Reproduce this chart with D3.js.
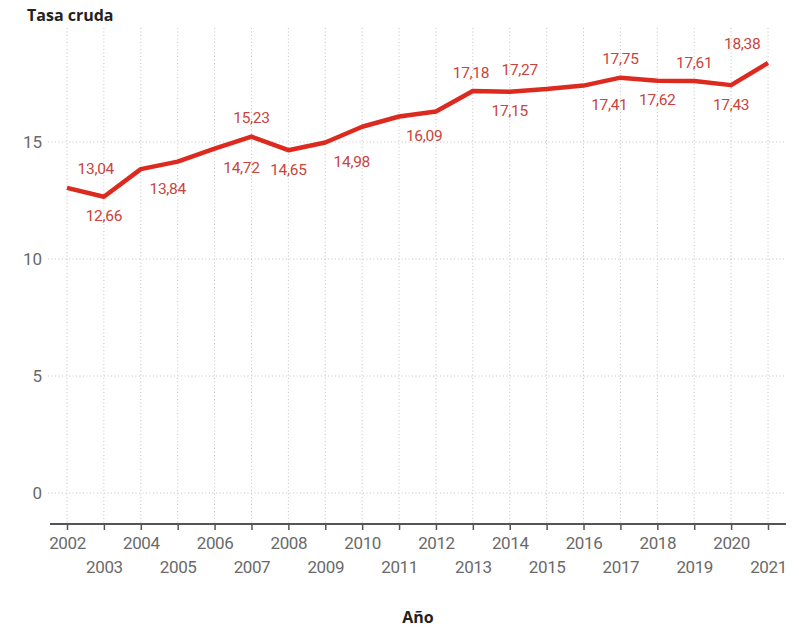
<!DOCTYPE html>
<html>
<head>
<meta charset="utf-8">
<script src="https://cdn.jsdelivr.net/npm/d3@7"></script>
<style>
  html, body { margin: 0; padding: 0; background: #fff; }
  svg { display: block; }
</style>
</head>
<body>
<svg id="chart" width="799" height="628"></svg>
<script>
// Crude rate by year
const years = [2002, 2003, 2004, 2005, 2006, 2007, 2008, 2009, 2010, 2011,
               2012, 2013, 2014, 2015, 2016, 2017, 2018, 2019, 2020, 2021];
const rates = [13.04, 12.66, 13.84, 14.16, 14.72, 15.23, 14.65, 14.98, 15.65, 16.09,
               16.30, 17.18, 17.15, 17.27, 17.41, 17.75, 17.62, 17.61, 17.43, 18.38];
// Which points carry a value label: 1 above the line, -1 below, 0 none
const labelSide = [1, -1, -1, 0, -1, 1, -1, -1, 0, -1,
                   0, 1, -1, 1, -1, 1, -1, 1, -1, 1];
// Horizontal nudge of each label, in fractions of one year step
const labelShift = [0.78, 0, 0.73, 0, 0.73, 0, 0, 0.72, 0, 0.68,
                    0, -0.05, 0, -0.73, 0.7, 0, 0, 0, 0, -0.7];
const yTicks = [0, 5, 10, 15];

const svg = d3.select("#chart");
const font = "'Open Sans', 'Noto Sans', sans-serif";
const numFont = "Roboto, 'Open Sans', sans-serif";
const lineColor = "#dc2a1f";
const labelColor = "#c9443c";
const tickColor = "#6a6a6a";

const x = d3.scaleLinear().domain([2002, 2021]).range([67, 768]);
const y = d3.scaleLinear().domain([0, 15]).range([493, 142]);
const axisY = 524;
const step = x(2003) - x(2002);

// Grid: dotted verticals at every year, dotted horizontals at y ticks
svg.append("g").selectAll("line").data(years).join("line")
  .attr("x1", d => x(d)).attr("x2", d => x(d))
  .attr("y1", 28).attr("y2", axisY)
  .attr("stroke", "#c4c4c4").attr("stroke-width", 1)
  .attr("stroke-dasharray", "1,2.5");

svg.append("g").selectAll("line").data(yTicks).join("line")
  .attr("x1", 48).attr("x2", 786)
  .attr("y1", d => y(d)).attr("y2", d => y(d))
  .attr("stroke", "#c4c4c4").attr("stroke-width", 1)
  .attr("stroke-dasharray", "1,2.5");

// Y tick labels
svg.append("g").selectAll("text").data(yTicks).join("text")
  .attr("x", 42).attr("y", d => y(d))
  .attr("dy", "0.36em")
  .attr("text-anchor", "end")
  .attr("font-family", numFont).attr("font-size", 17)
  .attr("fill", tickColor)
  .text(d => d);

// X axis with tick labels staggered on two rows
const xAxis = d3.axisBottom(x)
  .tickValues(years)
  .tickFormat(d3.format("d"))
  .tickSize(6)
  .tickSizeOuter(0);
const gx = svg.append("g").attr("transform", `translate(0,${axisY})`).call(xAxis);
gx.select(".domain").remove();
gx.insert("line", ":first-child")
  .attr("x1", 50).attr("x2", 786).attr("y1", 0).attr("y2", 0)
  .attr("stroke", "#555").attr("stroke-width", 2);
gx.selectAll(".tick line").attr("stroke", "#555").attr("stroke-width", 1.5);
gx.selectAll(".tick text")
  .attr("font-family", numFont).attr("font-size", 17)
  .attr("letter-spacing", "-0.4px")
  .attr("fill", tickColor)
  .attr("y", (d, i) => i % 2 === 0 ? 19 : 43)
  .attr("dy", "0.36em");

// Rate line
const line = d3.line()
  .x((d, i) => x(years[i]))
  .y(d => y(d));
svg.append("path")
  .datum(rates)
  .attr("d", line)
  .attr("fill", "none")
  .attr("stroke", lineColor)
  .attr("stroke-width", 4.5)
  .attr("stroke-linejoin", "round");

// Value labels, decimal comma
const fmt = d3.formatLocale({ decimal: ",", thousands: ".", grouping: [3], currency: ["", ""] }).format(".2f");
svg.append("g").selectAll("text")
  .data(rates.map((v, i) => ({ v, i })).filter(d => labelSide[d.i] !== 0))
  .join("text")
  .attr("x", d => x(years[d.i]) + labelShift[d.i] * step)
  .attr("y", d => y(d.v) - labelSide[d.i] * 19)
  .attr("dy", "0.36em")
  .attr("text-anchor", "middle")
  .attr("font-family", numFont).attr("font-size", 15.5)
  .attr("letter-spacing", "-0.3px")
  .attr("fill", labelColor)
  .text(d => fmt(d.v));

// Titles
svg.append("text")
  .attr("x", 27).attr("y", 21)
  .attr("font-family", font).attr("font-size", 16).attr("font-weight", 700)
  .attr("fill", "#222")
  .text("Tasa cruda");

svg.append("text")
  .attr("x", 418).attr("y", 623)
  .attr("text-anchor", "middle")
  .attr("font-family", font).attr("font-size", 16).attr("font-weight", 700)
  .attr("fill", "#222")
  .text("Año");
</script>
</body>
</html>
